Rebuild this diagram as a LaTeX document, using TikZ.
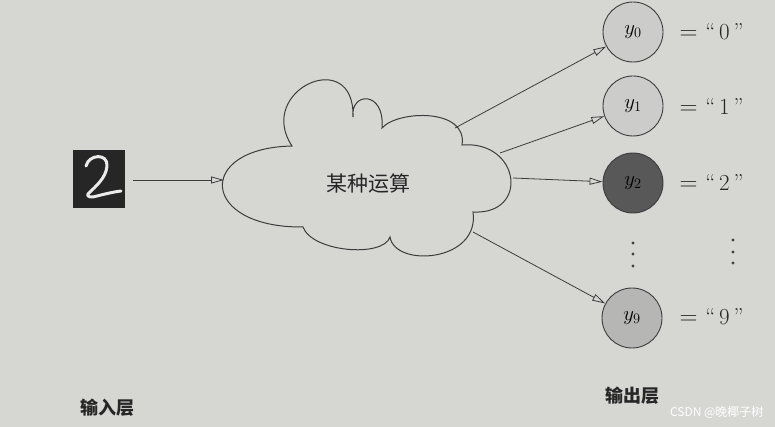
\documentclass[tikz,border=0pt]{standalone}
\usepackage{fontspec}
\newfontfamily\cjk{Noto Sans CJK SC}
\usetikzlibrary{arrows.meta}
\definecolor{paper}{RGB}{214,214,211}
\definecolor{ink}{RGB}{60,60,60}
\definecolor{lightball}{RGB}{204,204,202}
\definecolor{darkball}{RGB}{88,88,88}
\definecolor{midball}{RGB}{182,182,180}
\tikzset{
  ball/.style={circle, draw=ink, line width=0.9pt, minimum size=60pt, inner sep=0pt, font=\fontsize{22}{22}\selectfont},
  arr/.style={draw=ink, line width=0.8pt, -{Triangle[open,length=13pt,width=7pt]}},
  lab/.style={anchor=west, font=\fontsize{23}{23}\selectfont, text=black!85},
  layer/.style={font=\cjk\bfseries\fontsize{18}{18}\selectfont, text=black!85},
  vdot/.style={circle, fill=black!75, inner sep=0pt, minimum size=3.4pt}
}
\begin{document}
\begin{tikzpicture}[x=1pt,y=-1pt]
\fill[paper] (0,0) rectangle (775,427);
\useasboundingbox (0,0) rectangle (775,427);

% input image
\node[fill=black!85, minimum width=52pt, minimum height=58pt, inner sep=0pt] (img) at (99,179) {};
\draw[white!92!black, line width=3pt, line cap=round, line join=round]
  (86,166) .. controls (89,154) and (108,153) .. (107,166)
  .. controls (106,178) and (96,186) .. (88,194)
  .. controls (86,197) and (92,198) .. (97,196)
  .. controls (105,194) and (113,192) .. (121,191);

% cloud
\draw[ink, line width=1pt, fill=paper]
  (292,146) .. controls (255,90) and (355,45) .. (353,117)
  .. controls (350,92) and (385,90) .. (382,128)
  .. controls (398,110) and (468,108) .. (462,145)
  .. controls (520,140) and (530,215) .. (473,212)
  .. controls (480,262) and (395,268) .. (390,237)
  .. controls (383,258) and (312,252) .. (303,227)
  .. controls (200,228) and (195,148) .. (292,146) -- cycle;
\node[font=\cjk\fontsize{21}{21}\selectfont, text=black!85] (op) at (368,184) {某种运算};
\coordinate (cin) at (224,180);
\coordinate (c0) at (455,128);
\coordinate (c1) at (500,153);
\coordinate (c2) at (513,178);
\coordinate (c9) at (473,232);
\coordinate (imgout) at (133,180);

% output nodes
\node[ball, fill=lightball] (y0) at (633,32) {$y_0$};
\node[ball, fill=lightball] (y1) at (633,106) {$y_1$};
\node[ball, fill=darkball] (y2) at (633,183) {$y_2$};
\node[ball, fill=midball] (y9) at (632,318) {$y_9$};

% arrows
\draw[arr] (imgout) -- (cin);
\draw[arr] (c0) -- (y0);
\draw[arr] (c1) -- (y1);
\draw[arr] (c2) -- (y2);
\draw[arr] (c9) -- (y9);

% labels
\node[lab] (l0) at (676,32) {$=$\hspace{8pt}``\,0\,''};
\node[lab] (l1) at (676,107) {$=$\hspace{8pt}``\,1\,''};
\node[lab] (l2) at (676,183) {$=$\hspace{8pt}``\,2\,''};
\node[lab] (l9) at (676,317) {$=$\hspace{8pt}``\,9\,''};

% dots
\node[vdot] (d1) at (633,243) {};
\node[vdot] (d2) at (633,254) {};
\node[vdot] (d3) at (633,266) {};
\node[vdot] (e1) at (733,240) {};
\node[vdot] (e2) at (733,252) {};
\node[vdot] (e3) at (733,263) {};

% layer labels
\node[layer] (inl) at (107,408) {输入层};
\node[layer] (outl) at (632,396) {输出层};

% watermark
\node[font=\cjk\fontsize{12}{12}\selectfont, text=white, anchor=east] (wm) at (767,412) {CSDN @晚椰子树};
\end{tikzpicture}
\end{document}
